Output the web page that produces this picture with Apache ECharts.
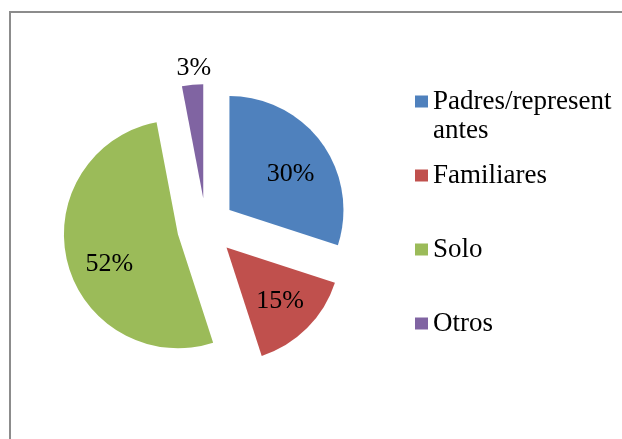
<!DOCTYPE html>
<html>
<head>
<meta charset="utf-8">
<script src="https://cdn.jsdelivr.net/npm/echarts@6/dist/echarts.min.js"></script>
<style>
html, body { margin: 0; padding: 0; background: #fff; }
#main { width: 622px; height: 439px; }
</style>
</head>
<body>
<div id="main"></div>
<script>
// datos del grafico
const categories = ['Padres/representantes', 'Familiares', 'Solo', 'Otros'];
const values = [30, 15, 52, 3];
// la primera linea vacia deja el cuadro alineado con la primera linea del texto
const legendLabels = ['\nPadres/represent\nantes', '\nFamiliares\n', '\nSolo\n', '\nOtros\n'];
const colors = ['#4F81BD', '#C0504D', '#9BBB59', '#8064A2'];

const font = 'Liberation Serif, Times New Roman, serif';
const lineH = 29;

const mainData = categories.map((name, i) => ({
  name: name,
  value: values[i],
  selected: true,
  itemStyle: { color: colors[i] },
  // solo "Otros" lleva la etiqueta afuera
  label: { show: i === 3 }
}));

const labelData = categories.map((name, i) => ({
  name: name,
  value: values[i],
  selected: true,
  label: { show: i !== 3 }
}));

// pequeño ajuste vertical de las etiquetas internas
const labelShift = [7, 2, 12, 0];

const chart = echarts.init(document.getElementById('main'));
chart.setOption({
  animation: false,
  color: colors,
  graphic: [{
    type: 'rect',
    shape: { x: 10, y: 12, width: 700, height: 500 },
    style: { fill: 'none', stroke: '#8c8c8c', lineWidth: 2 },
    silent: true
  }],
  legend: {
    orient: 'vertical',
    left: 415,
    top: 58,
    padding: 0,
    itemGap: 74 - 3 * lineH,
    itemWidth: 13,
    itemHeight: 12,
    icon: 'rect',
    selectedMode: false,
    data: categories,
    formatter: name => legendLabels[categories.indexOf(name)],
    textStyle: { fontFamily: font, fontSize: 27, lineHeight: lineH, color: '#000' }
  },
  series: [
    {
      name: 'principal',
      type: 'pie',
      center: [206, 227],
      radius: 114,
      startAngle: 90,
      selectedMode: 'multiple',
      selectedOffset: 29,
      silent: true,
      data: mainData,
      label: {
        position: 'outside',
        formatter: '{c}%',
        fontFamily: font,
        fontSize: 26,
        color: '#000',
        distanceToLabelLine: 0
      },
      labelLine: { show: false, length: 17, length2: 0 },
      labelLayout: { align: 'center', dx: 3 }
    },
    {
      name: 'etiquetas',
      type: 'pie',
      center: [206, 227],
      radius: 140,
      startAngle: 90,
      selectedMode: 'multiple',
      selectedOffset: 29,
      silent: true,
      legendHoverLink: false,
      itemStyle: { color: 'rgba(0,0,0,0)' },
      data: labelData,
      label: {
        position: 'inside',
        formatter: '{c}%',
        fontFamily: font,
        fontSize: 26,
        color: '#000'
      },
      labelLine: { show: false },
      labelLayout: params => ({ dx: 2, dy: labelShift[params.dataIndex] })
    }
  ]
});
</script>
</body>
</html>
